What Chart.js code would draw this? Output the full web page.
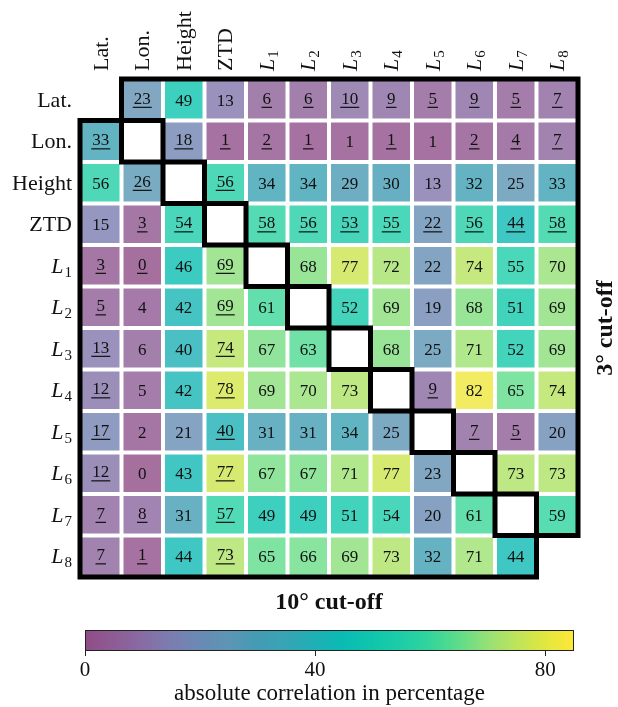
<!DOCTYPE html>
<html>
<head>
<meta charset="utf-8">
<script src="https://cdn.jsdelivr.net/npm/chart.js@4.4.1/dist/chart.umd.min.js"></script>
<style>
    html, body { margin: 0; padding: 0; background: #fff; }
    #wrap { width: 618px; height: 707px; }
</style>
</head>
<body>
<div id="wrap"><canvas id="corrChart" width="618" height="707"></canvas></div>
<script>
// parameters (rows and columns of the matrix)
const params = ['Lat.', 'Lon.', 'Height', 'ZTD', 'L1', 'L2', 'L3', 'L4', 'L5', 'L6', 'L7', 'L8'];

// absolute correlation in percentage, upper triangle = 3 deg cut-off, lower = 10 deg
const values = [
    [null, 23, 49, 13, 6, 6, 10, 9, 5, 9, 5, 7],
    [33, null, 18, 1, 2, 1, 1, 1, 1, 2, 4, 7],
    [56, 26, null, 56, 34, 34, 29, 30, 13, 32, 25, 33],
    [15, 3, 54, null, 58, 56, 53, 55, 22, 56, 44, 58],
    [3, 0, 46, 69, null, 68, 77, 72, 22, 74, 55, 70],
    [5, 4, 42, 69, 61, null, 52, 69, 19, 68, 51, 69],
    [13, 6, 40, 74, 67, 63, null, 68, 25, 71, 52, 69],
    [12, 5, 42, 78, 69, 70, 73, null, 9, 82, 65, 74],
    [17, 2, 21, 40, 31, 31, 34, 25, null, 7, 5, 20],
    [12, 0, 43, 77, 67, 67, 71, 77, 23, null, 73, 73],
    [7, 8, 31, 57, 49, 49, 51, 54, 20, 61, null, 59],
    [7, 1, 44, 73, 65, 66, 69, 73, 32, 71, 44, null]
];

// 1 = value is underlined
const underlined = [
    [0, 1, 0, 0, 1, 1, 1, 1, 1, 1, 1, 1],
    [1, 0, 1, 1, 1, 1, 0, 1, 0, 1, 1, 1],
    [0, 1, 0, 1, 0, 0, 0, 0, 0, 0, 0, 0],
    [0, 1, 1, 0, 1, 1, 1, 1, 1, 1, 1, 1],
    [1, 1, 0, 1, 0, 0, 0, 0, 0, 0, 0, 0],
    [1, 0, 0, 1, 0, 0, 0, 0, 0, 0, 0, 0],
    [1, 0, 0, 1, 0, 0, 0, 0, 0, 0, 0, 0],
    [1, 0, 0, 1, 0, 0, 0, 0, 1, 0, 0, 0],
    [1, 0, 0, 1, 0, 0, 0, 0, 0, 1, 1, 0],
    [1, 0, 0, 1, 0, 0, 0, 0, 0, 0, 0, 0],
    [1, 1, 0, 1, 0, 0, 0, 0, 0, 0, 0, 0],
    [1, 1, 0, 1, 0, 0, 0, 0, 0, 0, 0, 0]
];

const colorbarTicks = [0, 40, 80];
const colorMin = 0;
const colorMax = 85;

// colormap stops (value, r, g, b)
const cmapValues = [0, 5, 10, 15, 20, 25, 30, 35, 40, 45, 50, 55, 60, 65, 70, 75, 80, 85];
const cmapColors = [
    [143, 76, 134], [142, 92, 149], [135, 108, 163], [124, 125, 176], [105, 138, 180],
    [92, 149, 180], [67, 155, 180], [55, 165, 180], [30, 176, 181], [10, 188, 179],
    [15, 198, 172], [30, 205, 168], [50, 213, 155], [95, 220, 138], [150, 224, 118],
    [190, 228, 90], [225, 231, 62], [255, 232, 55]
];

function cmap(v) {
    let i = 0;
    while (i < cmapValues.length - 2 && v > cmapValues[i + 1]) i++;
    const t = Math.max(0, Math.min(1, (v - cmapValues[i]) / (cmapValues[i + 1] - cmapValues[i])));
    return cmapColors[i].map((c, k) => c + (cmapColors[i + 1][k] - c) * t);
}

function cellColor(v) {
    // cells are slightly transparent over white
    const c = cmap(v).map(x => Math.round(x * 0.8 + 255 * 0.2));
    return 'rgb(' + c.join(',') + ')';
}

const serif = '"Liberation Serif", "DejaVu Serif", serif';

function drawLabel(ctx, text, x, y, align) {
    const m = /^L(\d)$/.exec(text);
    ctx.textAlign = 'left';
    if (!m) {
        ctx.font = '22px ' + serif;
        const w = ctx.measureText(text).width;
        const x0 = align === 'right' ? x - w : x;
        ctx.fillText(text, x0, y);
        return;
    }
    ctx.font = 'italic 22px ' + serif;
    const wL = ctx.measureText('L').width;
    ctx.font = '15px ' + serif;
    const wS = ctx.measureText(m[1]).width;
    const total = wL + 1 + wS;
    const x0 = align === 'right' ? x - total : x;
    ctx.font = 'italic 22px ' + serif;
    ctx.fillText('L', x0, y);
    ctx.font = '15px ' + serif;
    ctx.fillText(m[1], x0 + wL + 1, y + 4);
}

const matrixDecor = {
    id: 'matrixDecor',
    afterDatasetsDraw(chart) {
        const ctx = chart.ctx;
        const xs = chart.scales.x, ys = chart.scales.y;
        const area = chart.chartArea;
        const n = params.length;
        const band = (xs.right - xs.left) / n;
        const colLeft = j => xs.getPixelForValue(j) - band / 2;
        const rowTop = r => ys.getPixelForValue(r - 0.5);

        ctx.save();
        // cell numbers
        ctx.fillStyle = '#111';
        ctx.font = '17px ' + serif;
        ctx.textAlign = 'center';
        ctx.textBaseline = 'alphabetic';
        values.forEach((row, r) => {
            const meta = chart.getDatasetMeta(r);
            row.forEach((v, j) => {
                if (v === null) return;
                const bar = meta.data[j];
                const cx = bar.x;
                const cy = (bar.y + bar.base) / 2;
                const u = underlined[r][j];
                const base = cy + 6 - (u ? 2 : 0);
                ctx.fillText(String(v), cx, base);
                if (u) {
                    const w = ctx.measureText(String(v)).width;
                    ctx.fillRect(cx - w / 2 - 1, base + 3, w + 2, 1.2);
                }
            });
        });

        // staircase outlines of both triangles
        ctx.strokeStyle = '#000';
        ctx.lineWidth = 5;
        ctx.lineJoin = 'miter';
        ctx.beginPath();
        ctx.moveTo(colLeft(1), rowTop(0));
        for (let r = 1; r <= n - 2; r++) {
            ctx.lineTo(colLeft(r), rowTop(r + 1));
            ctx.lineTo(colLeft(r + 1), rowTop(r + 1));
        }
        ctx.lineTo(colLeft(n), rowTop(n - 1));
        ctx.lineTo(colLeft(n), rowTop(0));
        ctx.closePath();
        ctx.stroke();

        ctx.beginPath();
        ctx.moveTo(colLeft(0), rowTop(1));
        for (let r = 1; r <= n - 2; r++) {
            ctx.lineTo(colLeft(r + 1), rowTop(r));
            ctx.lineTo(colLeft(r + 1), rowTop(r + 1));
        }
        ctx.lineTo(colLeft(n - 1), rowTop(n));
        ctx.lineTo(colLeft(0), rowTop(n));
        ctx.closePath();
        ctx.stroke();

        // row and column labels
        ctx.fillStyle = '#111';
        params.forEach((p, r) => {
            drawLabel(ctx, p, area.left - 8, ys.getPixelForValue(r) + 7, 'right');
        });
        params.forEach((p, j) => {
            ctx.save();
            ctx.translate(xs.getPixelForValue(j), area.top - 8);
            ctx.rotate(-Math.PI / 2);
            drawLabel(ctx, p, 0, 7, 'left');
            ctx.restore();
        });

        // titles
        ctx.font = 'bold 24px ' + serif;
        ctx.textAlign = 'center';
        ctx.textBaseline = 'middle';
        ctx.fillText('10\u00b0 cut-off', (area.left + area.right) / 2, 603);
        ctx.save();
        ctx.translate(606, (area.top + area.bottom) / 2);
        ctx.rotate(-Math.PI / 2);
        ctx.fillText('3\u00b0 cut-off', 0, 0);
        ctx.restore();

        // colorbar
        const cbLeft = 85, cbRight = 574, cbTop = 630, cbBottom = 651;
        const grad = ctx.createLinearGradient(cbLeft, 0, cbRight, 0);
        cmapValues.forEach((v, i) => {
            grad.addColorStop((v - colorMin) / (colorMax - colorMin), 'rgb(' + cmapColors[i].join(',') + ')');
        });
        ctx.fillStyle = grad;
        ctx.fillRect(cbLeft, cbTop, cbRight - cbLeft, cbBottom - cbTop);
        ctx.strokeStyle = '#222';
        ctx.lineWidth = 1;
        ctx.strokeRect(cbLeft + 0.5, cbTop + 0.5, cbRight - cbLeft - 1, cbBottom - cbTop - 1);

        ctx.fillStyle = '#111';
        ctx.font = '21px ' + serif;
        ctx.textBaseline = 'alphabetic';
        colorbarTicks.forEach(t => {
            const x = cbLeft + (t - colorMin) / (colorMax - colorMin) * (cbRight - cbLeft);
            ctx.beginPath();
            ctx.moveTo(Math.round(x) + 0.5, cbBottom);
            ctx.lineTo(Math.round(x) + 0.5, cbBottom + 5);
            ctx.stroke();
            ctx.fillText(String(t), x, 676);
        });
        ctx.font = '23px ' + serif;
        ctx.fillText('absolute correlation in percentage', (cbLeft + cbRight) / 2, 700);
        ctx.restore();
    }
};

const datasets = values.map((row, r) => ({
    label: params[r],
    data: row.map(v => v === null ? null : [r - 0.452, r + 0.452]),
    backgroundColor: row.map(v => v === null ? 'rgba(0,0,0,0)' : cellColor(v)),
    borderWidth: 0,
    grouped: false,
    barPercentage: 0.904,
    categoryPercentage: 1
}));

const ctx = document.getElementById('corrChart').getContext('2d');
const corrChart = new Chart(ctx, {
    type: 'bar',
    data: { labels: params, datasets: datasets },
    options: {
        responsive: false,
        animation: false,
        layout: { padding: { left: 80, right: 40, top: 79, bottom: 130 } },
        plugins: {
            legend: { display: false },
            tooltip: { enabled: false }
        },
        scales: {
            x: { type: 'category', display: false, offset: true },
            y: { type: 'linear', display: false, min: -0.5, max: 11.5, reverse: true }
        }
    },
    plugins: [matrixDecor]
});
</script>
</body>
</html>
